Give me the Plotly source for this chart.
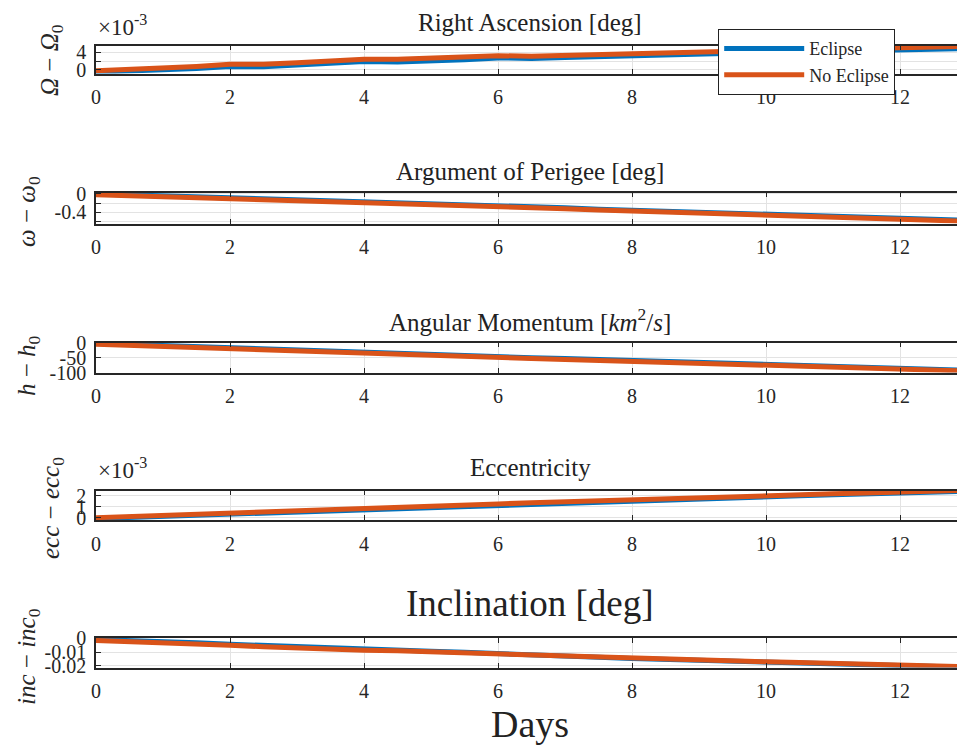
import plotly.graph_objects as go

# ---- data (days, deviations from initial orbital elements) ----
days = [0, 0.5, 1, 1.5, 2, 2.5, 3, 3.5, 4, 4.5, 5, 5.5, 6, 6.5, 7, 7.5, 8, 8.5,
        9, 9.5, 10, 10.5, 11, 11.5, 12, 12.5, 13]

raan_ecl = [-0.5, -0.3, 0.0, 0.3, 0.8, 0.7, 1.1, 1.4, 1.9, 1.8, 2.0, 2.3, 2.7, 2.6,
            2.8, 3.0, 3.3, 3.3, 3.6, 3.8, 4.0, 4.1, 4.2, 4.4, 4.5, 4.7, 4.8]
raan_noecl = [-0.2, 0.1, 0.4, 0.8, 1.3, 1.3, 1.6, 2.0, 2.4, 2.4, 2.6, 2.9, 3.2, 3.1,
              3.3, 3.5, 3.7, 3.8, 4.1, 4.3, 4.5, 4.6, 4.7, 4.9, 5.0, 5.2, 5.3]

argp_ecl = [0.0, -0.02, -0.04, -0.07, -0.09, -0.11, -0.14, -0.16, -0.18, -0.20, -0.22,
            -0.24, -0.26, -0.28, -0.30, -0.33, -0.35, -0.37, -0.39, -0.41, -0.43,
            -0.46, -0.48, -0.50, -0.53, -0.55, -0.57]
argp_noecl = [-0.02, -0.04, -0.06, -0.09, -0.11, -0.13, -0.16, -0.18, -0.20, -0.22,
              -0.24, -0.26, -0.28, -0.30, -0.32, -0.35, -0.37, -0.39, -0.41, -0.43,
              -0.45, -0.48, -0.50, -0.52, -0.55, -0.57, -0.59]

h_ecl = [0, -4, -8, -12, -16, -20, -25, -29, -33, -36, -39, -42, -45, -49, -52, -55,
         -59, -62, -64, -67, -70, -74, -77, -80, -84, -88, -92]
h_noecl = [-3, -7, -11, -15, -19, -23, -28, -32, -36, -39, -42, -45, -48, -52, -55,
           -58, -62, -65, -67, -70, -73, -77, -80, -83, -87, -91, -95]

ecc_ecl = [-0.05, 0.05, 0.15, 0.25, 0.38, 0.47, 0.56, 0.65, 0.75, 0.85, 0.95, 1.05,
           1.15, 1.25, 1.35, 1.44, 1.54, 1.63, 1.72, 1.81, 1.90, 1.98, 2.06, 2.13,
           2.20, 2.30, 2.38]
ecc_noecl = [0.03, 0.14, 0.25, 0.36, 0.48, 0.57, 0.66, 0.75, 0.85, 0.95, 1.05, 1.15,
             1.25, 1.35, 1.45, 1.54, 1.64, 1.73, 1.82, 1.91, 2.00, 2.08, 2.15, 2.22,
             2.30, 2.40, 2.48]

inc_ecl = [-0.0008, -0.0014, -0.0022, -0.0032, -0.0042, -0.0052, -0.0062, -0.0071,
           -0.0079, -0.0086, -0.0094, -0.0101, -0.0108, -0.0117, -0.0126, -0.0136,
           -0.0145, -0.0151, -0.0158, -0.0165, -0.0172, -0.0178, -0.0184, -0.0190,
           -0.0196, -0.0204, -0.0210]
inc_noecl = [-0.0015, -0.0022, -0.0030, -0.0040, -0.0050, -0.0060, -0.0070, -0.0078,
             -0.0085, -0.0090, -0.0098, -0.0104, -0.0110, -0.0120, -0.0128, -0.0137,
             -0.0145, -0.0150, -0.0157, -0.0163, -0.0170, -0.0175, -0.0180, -0.0185,
             -0.0190, -0.0198, -0.0205]

x_ticks = [0, 2, 4, 6, 8, 10, 12]
series_names = ["Eclipse", "No Eclipse"]

# ---- styling ----
W, H = 957, 749
BLUE, ORANGE = "#0072BD", "#D95319"
FONT = "Liberation Serif"
AX_COLOR = "#262626"
GRID = "#e3e3e3"
TICK_SIZE = 20

panels = [
    # (eclipse, no eclipse, y range, tick values, tick text, box top px, box bottom px)
    (raan_ecl, raan_noecl, [-0.8, 5.5], [0, 2, 4], ["0", " ", "4"], 45.5, 73.5),
    (argp_ecl, argp_noecl, [-0.64, 0.03], [-0.6, -0.4, -0.2, 0], [" ", "-0.4", " ", "0"], 192.5, 223.5),
    (h_ecl, h_noecl, [-100, 3], [-100, -50, 0], ["-100", "-50", "0"], 342.5, 372.5),
    (ecc_ecl, ecc_noecl, [-0.18, 2.45], [0, 1, 2], ["0", "1", "2"], 490.5, 520),
    (inc_ecl, inc_noecl, [-0.0211, 0.0003], [-0.02, -0.01, 0], ["-0.02", "-0.01", "0"], 638, 667.5),
]

fig = go.Figure()
layout = {}
for i, (ecl, noecl, yr, tv, tt, top, bot) in enumerate(panels, start=1):
    xa = "x" if i == 1 else f"x{i}"
    ya = "y" if i == 1 else f"y{i}"
    fig.add_trace(go.Scatter(x=days, y=ecl, mode="lines", name=series_names[0],
                             line=dict(color=BLUE, width=5), xaxis=xa, yaxis=ya,
                             showlegend=(i == 1), legendgroup="e"))
    fig.add_trace(go.Scatter(x=days, y=noecl, mode="lines", name=series_names[1],
                             line=dict(color=ORANGE, width=5), xaxis=xa, yaxis=ya,
                             showlegend=(i == 1), legendgroup="n"))
    xk = "xaxis" if i == 1 else f"xaxis{i}"
    yk = "yaxis" if i == 1 else f"yaxis{i}"
    layout[xk] = dict(
        domain=[96 / W, 1], range=[0, (W - 96) / 67.0], anchor=ya,
        tickvals=x_ticks, ticks="inside", ticklen=5, tickwidth=1.2, tickcolor=AX_COLOR,
        showline=True, linecolor=AX_COLOR, linewidth=1.5, mirror="ticks",
        showgrid=True, gridcolor=GRID, gridwidth=1, zeroline=False, automargin=False,
        tickfont=dict(family=FONT, size=TICK_SIZE, color=AX_COLOR), ticklabelstandoff=5,
    )
    layout[yk] = dict(
        domain=[1 - bot / H, 1 - top / H], range=yr, anchor=xa,
        tickvals=tv, ticktext=tt, ticks="inside", ticklen=5, tickwidth=1.2,
        tickcolor=AX_COLOR, showline=True, linecolor=AX_COLOR, linewidth=1.5,
        showgrid=True, gridcolor=GRID, gridwidth=1, zeroline=False, automargin=False,
        tickfont=dict(family=FONT, size=TICK_SIZE, color=AX_COLOR), ticklabelstandoff=4,
    )

fig.update_layout(**layout)

ann = []
titles = [
    ("Right Ascension [deg]", 22, 25),
    ("Argument of Perigee [deg]", 172, 25),
    ("Angular Momentum [<i>km</i><sup>2</sup>/<i>s</i>]", 320, 25),
    ("Eccentricity", 467, 25),
    ("Inclination [deg]", 603, 37),
]
for text, ypx, size in titles:
    ann.append(dict(x=530 / W, y=1 - ypx / H, xref="paper", yref="paper", text=text,
                    showarrow=False, font=dict(family=FONT, size=size, color="#222"),
                    xanchor="center", yanchor="middle"))

ylabels = [
    ("<i>Ω</i> − <i>Ω</i><sub>0</sub>", 52, 60),
    ("<i>ω</i> − <i>ω</i><sub>0</sub>", 28, 212),
    ("<i>h</i> − <i>h</i><sub>0</sub>", 28, 366),
    ("<i>ecc</i> − <i>ecc</i><sub>0</sub>", 52, 508),
    ("<i>inc</i> − <i>inc</i><sub>0</sub>", 28, 657),
]
for text, xpx, ypx in ylabels:
    ann.append(dict(x=xpx / W, y=1 - ypx / H, xref="paper", yref="paper", text=text,
                    showarrow=False, textangle=-90,
                    font=dict(family=FONT, size=25, color=AX_COLOR),
                    xanchor="center", yanchor="middle"))

for ypx in (26, 469):
    ann.append(dict(x=96 / W, y=1 - ypx / H, xref="paper", yref="paper",
                    text="×10<sup>-3</sup>", showarrow=False,
                    font=dict(family=FONT, size=23, color=AX_COLOR),
                    xanchor="left", yanchor="middle"))

ann.append(dict(x=530 / W, y=1 - 724 / H, xref="paper", yref="paper", text="Days",
                showarrow=False, font=dict(family=FONT, size=38, color="#222"),
                xanchor="center", yanchor="middle"))

fig.update_layout(
    width=W, height=H, margin=dict(l=0, r=0, t=0, b=0, autoexpand=False),
    paper_bgcolor="white", plot_bgcolor="white",
    annotations=ann,
    legend=dict(x=718 / W, y=1 - 29 / H, xanchor="left", yanchor="top",
                bgcolor="white", bordercolor="#222", borderwidth=1.2,
                font=dict(family=FONT, size=18, color=AX_COLOR),
                itemwidth=80, tracegroupgap=0,
                entrywidth=110, entrywidthmode="pixels"),
)

fig.write_html("out.html")
